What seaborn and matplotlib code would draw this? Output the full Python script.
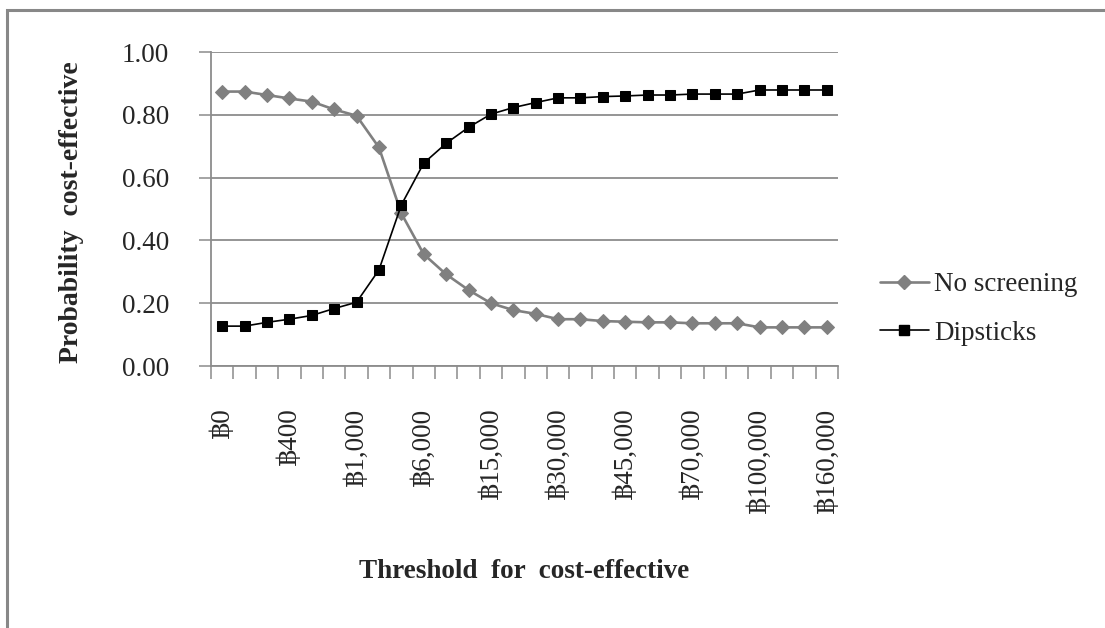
import numpy as np
import pandas as pd
import matplotlib
matplotlib.use("Agg")
import matplotlib.pyplot as plt
import seaborn as sns
from matplotlib.patches import Rectangle
from matplotlib.lines import Line2D

# ---- data ----
thresholds = ["฿0", "฿100", "฿200", "฿400", "฿600", "฿800", "฿1,000", "฿2,000",
              "฿4,000", "฿6,000", "฿8,000", "฿10,000", "฿15,000", "฿20,000",
              "฿25,000", "฿30,000", "฿35,000", "฿40,000", "฿45,000", "฿50,000",
              "฿60,000", "฿70,000", "฿80,000", "฿90,000", "฿100,000", "฿120,000",
              "฿140,000", "฿160,000"]
no_screening = [0.874, 0.874, 0.863, 0.852, 0.842, 0.817, 0.797, 0.696,
                0.486, 0.356, 0.292, 0.242, 0.200, 0.178, 0.166, 0.149,
                0.149, 0.143, 0.141, 0.139, 0.139, 0.136, 0.136, 0.136,
                0.123, 0.123, 0.123, 0.123]
dipsticks = [0.127, 0.127, 0.139, 0.149, 0.161, 0.183, 0.203, 0.306,
             0.513, 0.646, 0.709, 0.760, 0.802, 0.823, 0.839, 0.854,
             0.854, 0.858, 0.860, 0.863, 0.863, 0.866, 0.866, 0.866,
             0.879, 0.879, 0.879, 0.879]
series_names = ["No screening", "Dipsticks"]
y_ticks = [0.0, 0.2, 0.4, 0.6, 0.8, 1.0]
label_every = 3

sns.set_theme(style="white")
plt.rcParams['font.family'] = ['Liberation Serif', 'DejaVu Serif', 'DejaVu Sans']

W, H = 1105, 628
fig = plt.figure(figsize=(W / 100, H / 100), dpi=100)
ax = fig.add_axes([211 / W, 1 - 366 / H, (838 - 211) / W, (366 - 52) / H])

GRAY = "#808080"
GRID = "#8c8c8c"

df = pd.DataFrame({"x": thresholds, "No screening": no_screening, "Dipsticks": dipsticks})

sns.lineplot(data=df, x="x", y="No screening", ax=ax, sort=False, color=GRAY,
             linewidth=1.9, marker="D", markersize=7.4, markeredgecolor=GRAY,
             markerfacecolor=GRAY, zorder=3)
sns.lineplot(data=df, x="x", y="Dipsticks", ax=ax, sort=False, color="black",
             linewidth=1.2, marker="s", markersize=6.8, markeredgecolor="black",
             markerfacecolor="black", zorder=4)

n = len(thresholds)
ax.set_xlim(-0.5, n - 0.5)
ax.set_ylim(0, 1.0)
ax.set_yticks(y_ticks)
ax.set_yticklabels([f"{v:.2f}" for v in y_ticks], fontsize=19.5)
ax.set_xticks(range(0, n, label_every))
ax.set_xticklabels(thresholds[::label_every], rotation=90, fontsize=19.5)
ax.set_xticks(np.arange(-0.5, n, 1.0), minor=True)

ax.tick_params(axis="x", which="major", length=0, pad=30)
ax.tick_params(axis="x", which="minor", length=9, width=1.1, color=GRID, direction="out", bottom=True)
ax.tick_params(axis="y", which="major", length=9, width=1.1, color=GRID, direction="out", left=True, pad=21)

ax.grid(False)
ax.yaxis.grid(True, color=GRID, linewidth=1.3)
ax.set_axisbelow(True)
for s in ["top", "right"]:
    ax.spines[s].set_visible(False)
for s in ["left", "bottom"]:
    ax.spines[s].set_color(GRID)
    ax.spines[s].set_linewidth(1.3)

ax.set_xlabel("")
ax.set_ylabel("")
fig.text(72 / W, 1 - 212 / H, "Probability  cost-effective", rotation=90,
         ha="center", va="center", fontsize=20, fontweight="bold")
fig.text(524 / W, 1 - 572 / H, "Threshold  for  cost-effective",
         ha="center", va="center", fontsize=19.5, fontweight="bold")

handles = [Line2D([], [], color=GRAY, lw=1.9, marker="D", markersize=7.4,
                  markeredgecolor=GRAY, markerfacecolor=GRAY),
           Line2D([], [], color="black", lw=1.2, marker="s", markersize=6.8,
                  markeredgecolor="black", markerfacecolor="black")]
fig.legend(handles, series_names, loc="center left",
           bbox_to_anchor=(880 / W, 1 - 309 / H), frameon=False,
           fontsize=19.5, handlelength=1.8, handletextpad=0.2, labelspacing=0.85,
           borderpad=0, borderaxespad=0)

fig.patches.append(Rectangle((7 / W, -0.05), 1.1, 1 - 10 / H + 0.05,
                             transform=fig.transFigure, fill=False,
                             edgecolor="#888888", linewidth=2.2, zorder=10))

fig.savefig("out.png", dpi=100)
